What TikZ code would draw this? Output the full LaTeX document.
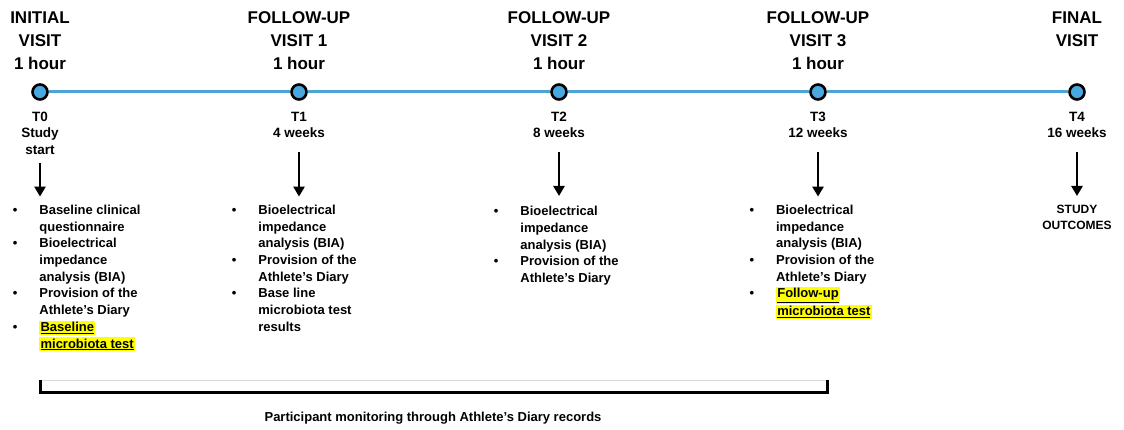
\documentclass[tikz,border=0pt]{standalone}
\usepackage{fontspec}
\setmainfont{Liberation Sans}
\usepackage{array}
\usetikzlibrary{arrows.meta,positioning}
\definecolor{lineblue}{HTML}{4BA3D6}
\definecolor{dotblue}{HTML}{48A8E2}
\definecolor{hlyellow}{HTML}{FFFF00}
\newcommand{\hlmark}[1]{{\setlength{\fboxsep}{1.2pt}\colorbox{hlyellow}{\underline{#1}}}}
\newcommand{\bul}{\textbullet}

\begin{document}
\begin{tikzpicture}[x=1pt,y=1pt,
  dot/.style={circle,draw=black,line width=2.6pt,fill=dotblue,minimum size=15pt,inner sep=0pt},
  visit/.style={font=\bfseries\fontsize{17}{23}\selectfont,align=center,inner sep=0pt},
  when/.style={font=\bfseries\fontsize{13.5}{16.5}\selectfont,align=center,inner sep=0pt},
  tasks/.style={font=\bfseries\fontsize{13}{16.7}\selectfont,inner sep=0pt,anchor=north west},
  down/.style={-{Triangle[length=10pt,width=11pt]},line width=2.6pt},
  timeline/.style={draw=lineblue,line width=3pt}]
\useasboundingbox (0,0) rectangle (1124,-430);
% visits on the time line
\node[dot] (t0) at (40,-92) {};
\node[dot] (t1) at (299,-92) {};
\node[dot] (t2) at (559,-92) {};
\node[dot] (t3) at (818,-92) {};
\node[dot] (t4) at (1077,-92) {};
\draw[timeline] (t0) -- (t1) (t1) -- (t2) (t2) -- (t3) (t3) -- (t4);
\node[visit,above=13pt of t0] (h0) {INITIAL\\VISIT\\1 hour};
\node[visit,above=13pt of t1] (h1) {FOLLOW-UP\\VISIT 1\\1 hour};
\node[visit,above=13pt of t2] (h2) {FOLLOW-UP\\VISIT 2\\1 hour};
\node[visit,above=13pt of t3] (h3) {FOLLOW-UP\\VISIT 3\\1 hour};
\node[visit,above=13pt of t4,yshift=23pt] (h4) {FINAL\\VISIT};
\node[when,below=11pt of t0] (w0) {T0\\Study\\start};
\node[when,below=11pt of t1] (w1) {T1\\4 weeks};
\node[when,below=11pt of t2] (w2) {T2\\8 weeks};
\node[when,below=11pt of t3] (w3) {T3\\12 weeks};
\node[when,below=11pt of t4] (w4) {T4\\16 weeks};
% what happens at each visit
\node[tasks] (l0) at (12.7,-202.6) {\begin{tabular}{@{}p{26.5pt}@{}l@{}}
\bul & Baseline clinical\\ & questionnaire\\
\bul & Bioelectrical\\ & impedance\\ & analysis (BIA)\\
\bul & Provision of the\\ & Athlete’s Diary\\
\bul & \hlmark{Baseline}\\ & \hlmark{microbiota test}
\end{tabular}};
\node[tasks] (l1) at (231.7,-202.6) {\begin{tabular}{@{}p{26.5pt}@{}l@{}}
\bul & Bioelectrical\\ & impedance\\ & analysis (BIA)\\
\bul & Provision of the\\ & Athlete’s Diary\\
\bul & Base line\\ & microbiota test\\ & results
\end{tabular}};
\node[tasks] (l2) at (493.7,-204) {\begin{tabular}{@{}p{26.5pt}@{}l@{}}
\bul & Bioelectrical\\ & impedance\\ & analysis (BIA)\\
\bul & Provision of the\\ & Athlete’s Diary
\end{tabular}};
\node[tasks] (l3) at (749.4,-202.6) {\begin{tabular}{@{}p{26.5pt}@{}l@{}}
\bul & Bioelectrical\\ & impedance\\ & analysis (BIA)\\
\bul & Provision of the\\ & Athlete’s Diary\\
\bul & \hlmark{Follow-up}\\ & \hlmark{microbiota test}
\end{tabular}};
\node[when,font=\bfseries\fontsize{12}{16}\selectfont,anchor=north] (out) at (1077,-205) {STUDY\\OUTCOMES};
\draw[down] ([yshift=-8pt]w0.south) -- ([yshift=6pt]w0.south |- l0.north);
\draw[down] ([yshift=-14pt]w1.south) -- ([yshift=6pt]w1.south |- l1.north);
\draw[down] ([yshift=-14pt]w2.south) -- ([yshift=8pt]w2.south |- l2.north);
\draw[down] ([yshift=-14pt]w3.south) -- ([yshift=6pt]w3.south |- l3.north);
\draw[down] ([yshift=-14pt]w4.south) -- ([yshift=9pt]out.north);
% monitoring period
\coordinate (bl) at (40,-380);
\coordinate (br) at (827,-380);
\draw[black!15,line width=1pt] (bl) -- (br);
\draw[line width=3pt] (bl) -- ++(0,-12) -| (br);
\node[font=\bfseries\fontsize{13}{15}\selectfont] (mon) at (433,-418) {Participant monitoring through Athlete’s Diary records};
\end{tikzpicture}
\end{document}
